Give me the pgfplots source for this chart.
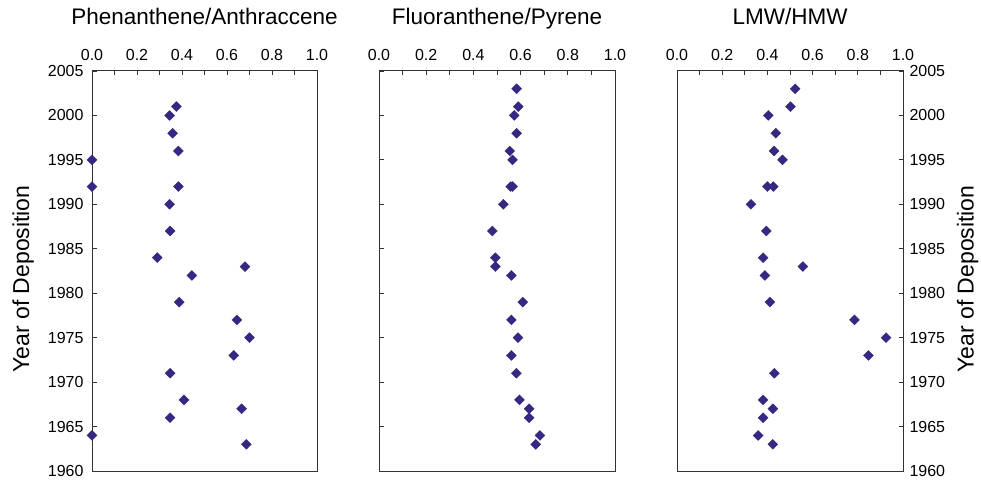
\documentclass[border=0pt]{standalone}
\usepackage{fontspec}
\setmainfont{Liberation Sans}
\usepackage{pgfplots}
\pgfplotsset{compat=1.18}
\definecolor{mk}{RGB}{52,40,130}
\pgfplotsset{
  panel/.style={
    scale only axis, height=400pt,
    xmin=0, xmax=1, ymin=1960, ymax=2005,
    clip=false,
    axis line style={line width=1pt, black!80},
    every tick/.style={line width=0.8pt, black!80},
    tick align=inside,
    major tick length=4.5pt, minor tick length=4.5pt,
    xtick={0,0.2,0.4,0.6,0.8,1.0},
    minor xtick={0.1,0.3,0.5,0.7,0.9},
    xtick pos=right, xticklabel pos=right,
    ytick={1960,1965,...,2005},
    /pgf/number format/assume math mode=true,
    xticklabel style={/pgf/number format/.cd, fixed, fixed zerofill, precision=1, /tikz/.cd, font=\fontsize{16}{18}\selectfont, yshift=7pt},
    yticklabel style={/pgf/number format/.cd, 1000 sep={}, /tikz/.cd, font=\fontsize{16}{18}\selectfont},
    title style={at={(0.5,1)}, anchor=base, yshift=40pt, font=\fontsize{22.5}{26}\selectfont},
    ylabel style={font=\fontsize{23}{26}\selectfont},
  },
  pts/.style={only marks, mark=square*, mark size=3.5pt, mark options={rotate=45, fill=mk, draw=mk}},
}
\begin{document}
\begin{tikzpicture}
\useasboundingbox (0pt,0pt) rectangle (981pt,480pt);
\begin{axis}[panel, at={(92pt,9pt)}, anchor=south west, width=225pt,
  title={Phenanthene/Anthraccene},
  ytick pos=left, yticklabel pos=left,
  yticklabel style={xshift=-5pt},
  ylabel={Year of Deposition},
  ylabel style={at={(ticklabel cs:0.48,7pt)}}]
\addplot[pts] coordinates {
(0.375,2001) (0.345,2000) (0.358,1998) (0.384,1996) (0,1995) (0,1992) (0.384,1992)
(0.345,1990) (0.347,1987) (0.29,1984) (0.68,1983) (0.444,1982) (0.388,1979)
(0.644,1977) (0.70,1975) (0.63,1973) (0.347,1971) (0.409,1968) (0.665,1967)
(0.347,1966) (0,1964) (0.686,1963)
};
\end{axis}
\begin{axis}[panel, at={(379pt,9pt)}, anchor=south west, width=236pt,
  title={Fluoranthene/Pyrene},
  ytick pos=left, yticklabels={}]
\addplot[pts] coordinates {
(0.583,2003) (0.59,2001) (0.573,2000) (0.583,1998) (0.554,1996) (0.566,1995)
(0.558,1992) (0.566,1992) (0.527,1990) (0.48,1987) (0.493,1984) (0.493,1983)
(0.561,1982) (0.609,1979) (0.561,1977) (0.589,1975) (0.561,1973) (0.582,1971)
(0.595,1968) (0.636,1967) (0.636,1966) (0.682,1964) (0.664,1963)
};
\end{axis}
\begin{axis}[panel, at={(677pt,9pt)}, anchor=south west, width=226pt,
  title={LMW/HMW},
  ytick pos=right, yticklabel pos=right,
  yticklabel style={xshift=3pt},
  ylabel={Year of Deposition},
  ylabel style={at={(ticklabel cs:0.48,5pt)}}]
\addplot[pts] coordinates {
(0.523,2003) (0.502,2001) (0.404,2000) (0.437,1998) (0.43,1996) (0.467,1995)
(0.40,1992) (0.426,1992) (0.327,1990) (0.395,1987) (0.381,1984) (0.557,1983)
(0.389,1982) (0.411,1979) (0.785,1977) (0.925,1975) (0.847,1973) (0.431,1971)
(0.381,1968) (0.424,1967) (0.381,1966) (0.359,1964) (0.424,1963)
};
\end{axis}
\end{tikzpicture}
\end{document}
